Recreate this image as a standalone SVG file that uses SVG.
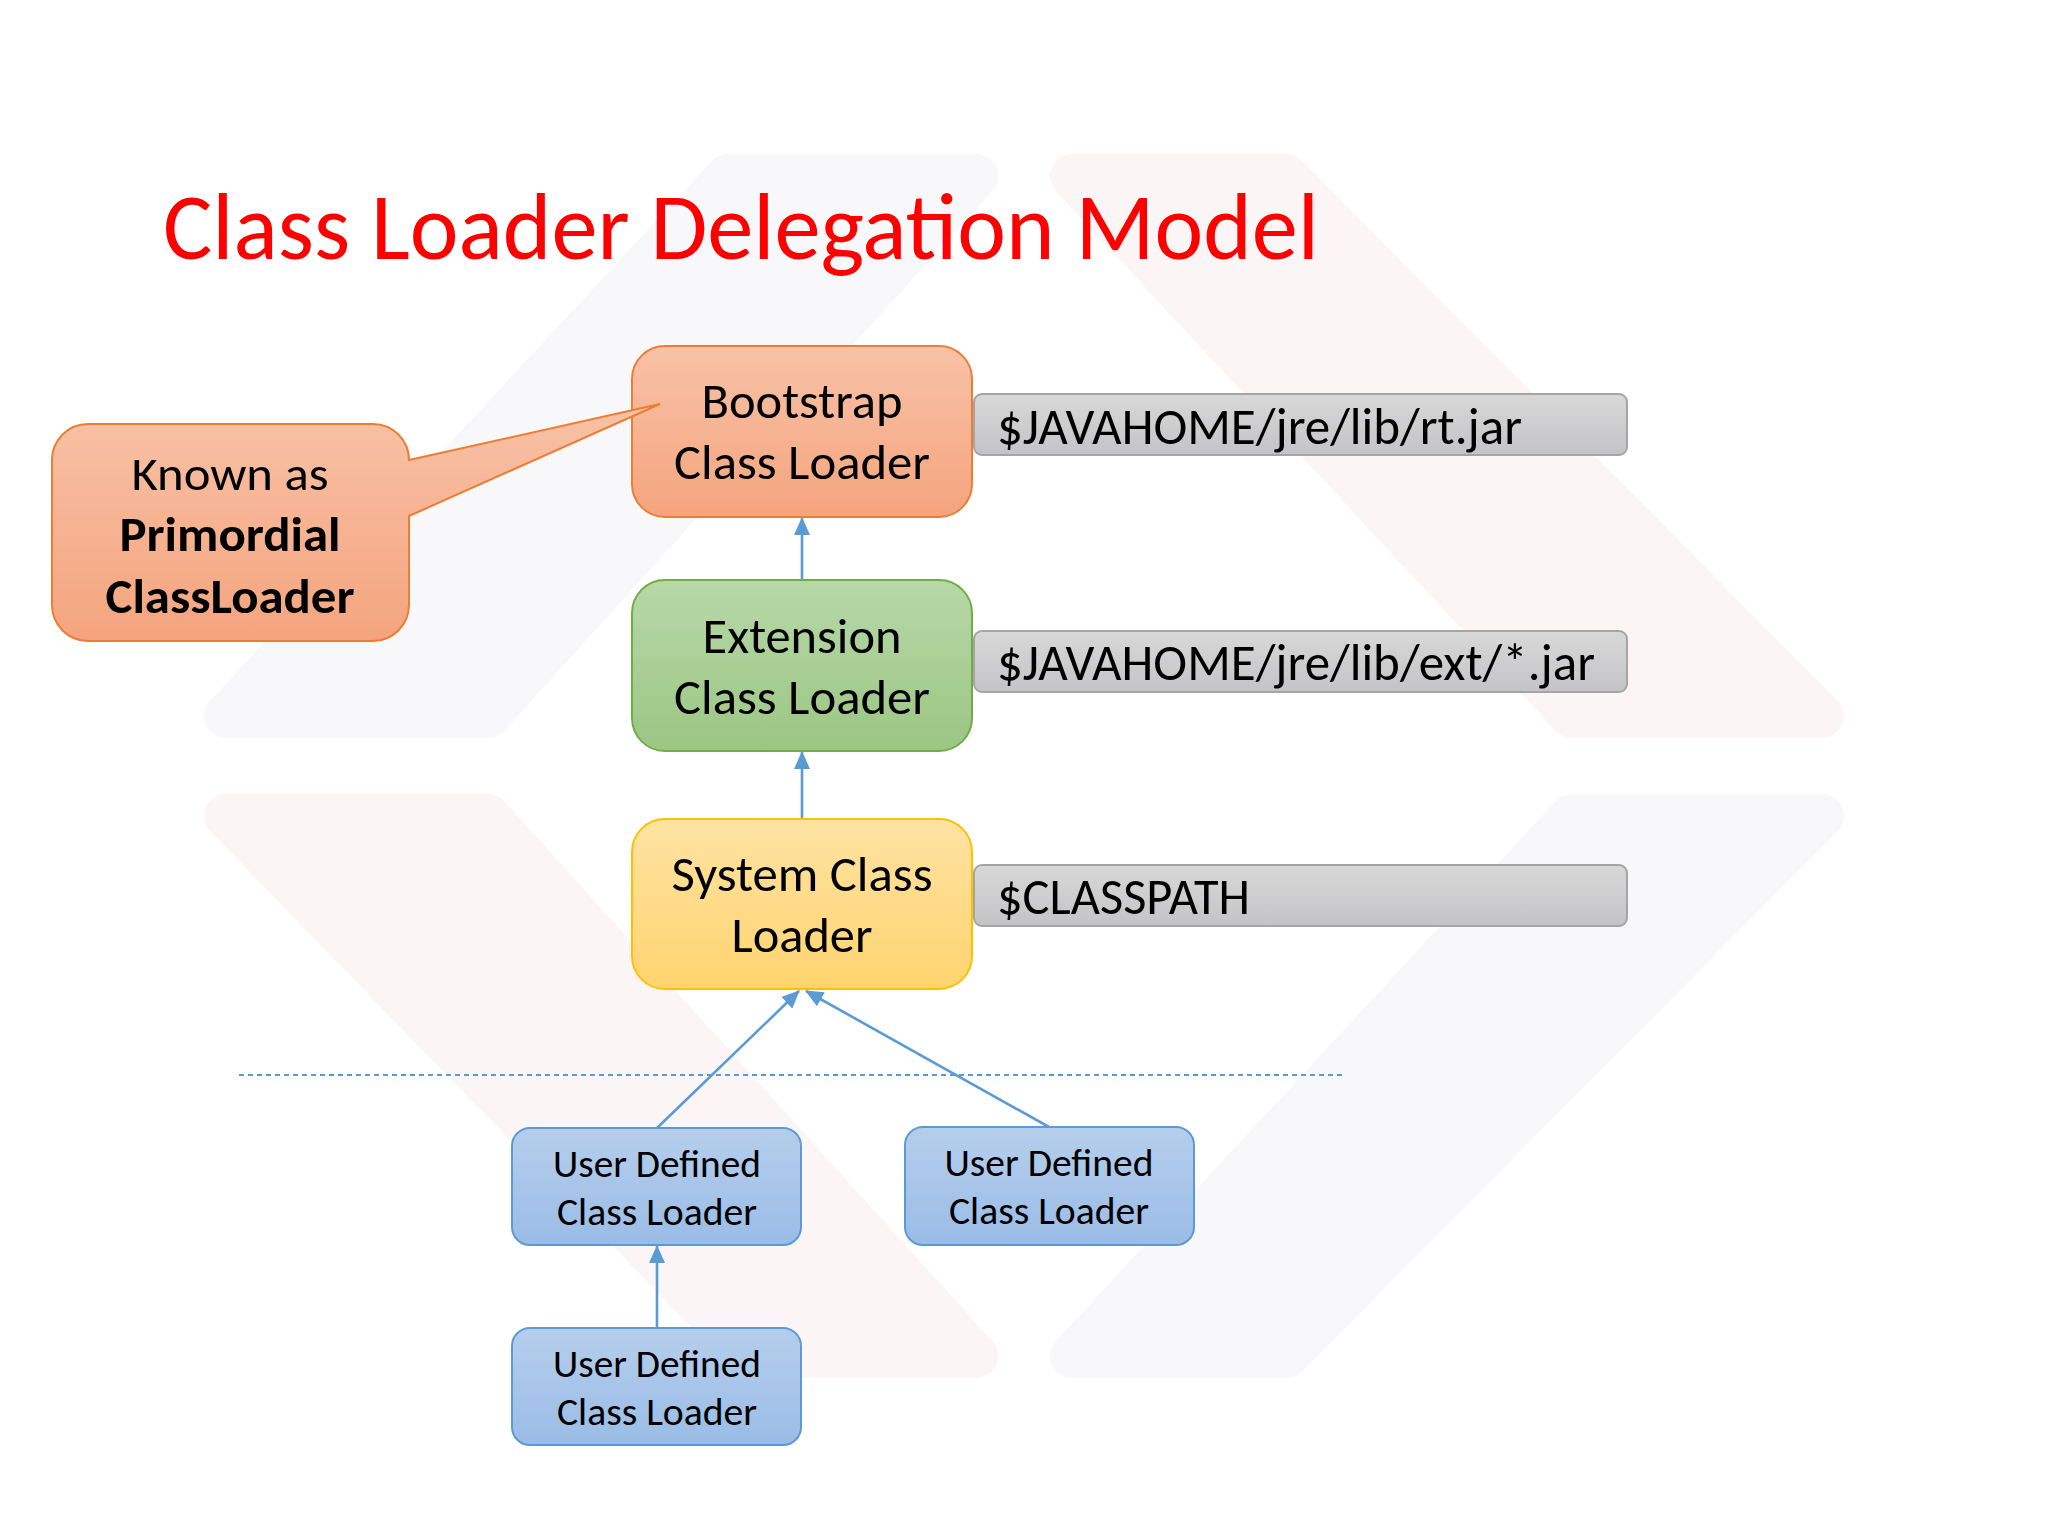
<svg xmlns="http://www.w3.org/2000/svg" width="2048" height="1536" viewBox="0 0 2048 1536">
  <defs>
    <linearGradient id="gOrange" x1="0" y1="0" x2="0" y2="1">
      <stop offset="0" stop-color="#F8C2A7"/>
      <stop offset="1" stop-color="#F4A47E"/>
    </linearGradient>
    <linearGradient id="gGreen" x1="0" y1="0" x2="0" y2="1">
      <stop offset="0" stop-color="#B7D8A9"/>
      <stop offset="1" stop-color="#9CC683"/>
    </linearGradient>
    <linearGradient id="gYellow" x1="0" y1="0" x2="0" y2="1">
      <stop offset="0" stop-color="#FFE3A3"/>
      <stop offset="1" stop-color="#FFD46F"/>
    </linearGradient>
    <linearGradient id="gBlue" x1="0" y1="0" x2="0" y2="1">
      <stop offset="0" stop-color="#B6CEEC"/>
      <stop offset="1" stop-color="#9ABCE6"/>
    </linearGradient>
    <linearGradient id="gGray" x1="0" y1="0" x2="0" y2="1">
      <stop offset="0" stop-color="#D8D8D9"/>
      <stop offset="1" stop-color="#C4C4C6"/>
    </linearGradient>
    <marker id="arrow" markerUnits="userSpaceOnUse" markerWidth="18" markerHeight="16" refX="17" refY="8" orient="auto">
      <path d="M0,0 L18,8 L0,16 Z" fill="#5B9BD5"/>
    </marker>
    <style>
      .t { font-family: Carlito, Calibri, "Open Sans", "Noto Sans", sans-serif; fill: #000; }
      .box { font-size: 49px; text-anchor: middle; }
      .call { font-size: 48px; text-anchor: middle; }
      .bold { font-weight: bold; }
      .path { font-size: 52px; }
      .ud { font-size: 38px; text-anchor: middle; }
      .conn { stroke: #5B9BD5; stroke-width: 2.6; fill: none; marker-end: url(#arrow); }
      .wmGray { fill: #F3F4F6; stroke: #F3F4F6; stroke-width: 44; stroke-linejoin: round; }
      .wmPink { fill: #FBEDEE; stroke: #FBEDEE; stroke-width: 44; stroke-linejoin: round; }
    </style>
  </defs>

  <rect x="0" y="0" width="2048" height="1536" fill="#FFFFFF"/>

  <!-- faint watermark background -->
  <g id="watermark" opacity="0.55">
    <polygon class="wmGray" points="728,176 976,176 488,716 226,716"/>
    <polygon class="wmPink" points="1072,176 1286,176 1822,716 1572,716"/>
    <polygon class="wmPink" points="226,816 488,816 976,1356 750,1356"/>
    <polygon class="wmGray" points="1572,816 1822,816 1286,1356 1072,1356"/>
  </g>

  <!-- title -->
  <text id="title" x="163" y="259" font-family="Carlito, Calibri, 'Open Sans', sans-serif" font-size="94" fill="#FF0000" textLength="1156" lengthAdjust="spacingAndGlyphs">Class Loader Delegation Model</text>

  <!-- connectors -->
  <g id="connectors">
    <line class="conn" x1="802" y1="580" x2="802" y2="518"/>
    <line class="conn" x1="802" y1="819" x2="802" y2="752"/>
    <line class="conn" x1="657" y1="1128" x2="799" y2="991"/>
    <line class="conn" x1="1049" y1="1127" x2="806" y2="991"/>
    <line class="conn" x1="657" y1="1328" x2="657" y2="1246"/>
    <line x1="239" y1="1075" x2="1345" y2="1075" stroke="#5B9BD5" stroke-width="2" stroke-dasharray="5 4"/>
  </g>

  <!-- Bootstrap -->
  <g id="bootstrap">
    <rect x="632" y="346" width="340" height="171" rx="33" fill="url(#gOrange)" stroke="#ED7D31" stroke-width="2"/>
    <text class="t box" x="802" y="418" textLength="201" lengthAdjust="spacingAndGlyphs">Bootstrap</text>
    <text class="t box" x="802" y="479" textLength="256" lengthAdjust="spacingAndGlyphs">Class Loader</text>
  </g>

  <!-- callout (drawn over the Bootstrap box edge) -->
  <g id="callout">
    <path d="M 88,424 H 373 A 36 36 0 0 1 409,460 L 660,404 L 409,516 V 605 A 36 36 0 0 1 373,641 H 88 A 36 36 0 0 1 52,605 V 460 A 36 36 0 0 1 88,424 Z" fill="url(#gOrange)" stroke="#ED7D31" stroke-width="2"/>
    <text class="t call" x="230" y="490" textLength="197" lengthAdjust="spacingAndGlyphs">Known as</text>
    <text class="t call bold" x="230" y="551" textLength="221" lengthAdjust="spacingAndGlyphs">Primordial</text>
    <text class="t call bold" x="230" y="613" textLength="249" lengthAdjust="spacingAndGlyphs">ClassLoader</text>
  </g>

  <!-- Extension -->
  <g id="extension">
    <rect x="632" y="580" width="340" height="171" rx="33" fill="url(#gGreen)" stroke="#70AD47" stroke-width="2"/>
    <text class="t box" x="802" y="653" textLength="199" lengthAdjust="spacingAndGlyphs">Extension</text>
    <text class="t box" x="802" y="714" textLength="256" lengthAdjust="spacingAndGlyphs">Class Loader</text>
  </g>

  <!-- System -->
  <g id="system">
    <rect x="632" y="819" width="340" height="170" rx="33" fill="url(#gYellow)" stroke="#FFC000" stroke-width="2"/>
    <text class="t box" x="802" y="891" textLength="261" lengthAdjust="spacingAndGlyphs">System Class</text>
    <text class="t box" x="802" y="952" textLength="141" lengthAdjust="spacingAndGlyphs">Loader</text>
  </g>

  <!-- path bars -->
  <g id="rtjar">
    <rect x="974" y="394" width="653" height="61" rx="8" fill="url(#gGray)" stroke="#A5A5A5" stroke-width="2"/>
    <text class="t path" x="997" y="444" textLength="525" lengthAdjust="spacingAndGlyphs">$JAVAHOME/jre/lib/rt.jar</text>
  </g>
  <g id="extjar">
    <rect x="974" y="631" width="653" height="61" rx="8" fill="url(#gGray)" stroke="#A5A5A5" stroke-width="2"/>
    <text class="t path" x="997" y="680" textLength="598" lengthAdjust="spacingAndGlyphs">$JAVAHOME/jre/lib/ext/*.jar</text>
  </g>
  <g id="classpath">
    <rect x="974" y="865" width="653" height="61" rx="8" fill="url(#gGray)" stroke="#A5A5A5" stroke-width="2"/>
    <text class="t path" x="997" y="914" textLength="253" lengthAdjust="spacingAndGlyphs">$CLASSPATH</text>
  </g>

  <!-- user defined loaders -->
  <g id="user1">
    <rect x="512" y="1128" width="289" height="117" rx="18" fill="url(#gBlue)" stroke="#5B9BD5" stroke-width="2"/>
    <text class="t ud" x="657" y="1177" textLength="208" lengthAdjust="spacingAndGlyphs">User Defined</text>
    <text class="t ud" x="657" y="1225" textLength="200" lengthAdjust="spacingAndGlyphs">Class Loader</text>
  </g>
  <g id="user2">
    <rect x="905" y="1127" width="289" height="118" rx="18" fill="url(#gBlue)" stroke="#5B9BD5" stroke-width="2"/>
    <text class="t ud" x="1049" y="1176" textLength="209" lengthAdjust="spacingAndGlyphs">User Defined</text>
    <text class="t ud" x="1049" y="1224" textLength="200" lengthAdjust="spacingAndGlyphs">Class Loader</text>
  </g>
  <g id="user3">
    <rect x="512" y="1328" width="289" height="117" rx="18" fill="url(#gBlue)" stroke="#5B9BD5" stroke-width="2"/>
    <text class="t ud" x="657" y="1377" textLength="208" lengthAdjust="spacingAndGlyphs">User Defined</text>
    <text class="t ud" x="657" y="1425" textLength="200" lengthAdjust="spacingAndGlyphs">Class Loader</text>
  </g>
</svg>
